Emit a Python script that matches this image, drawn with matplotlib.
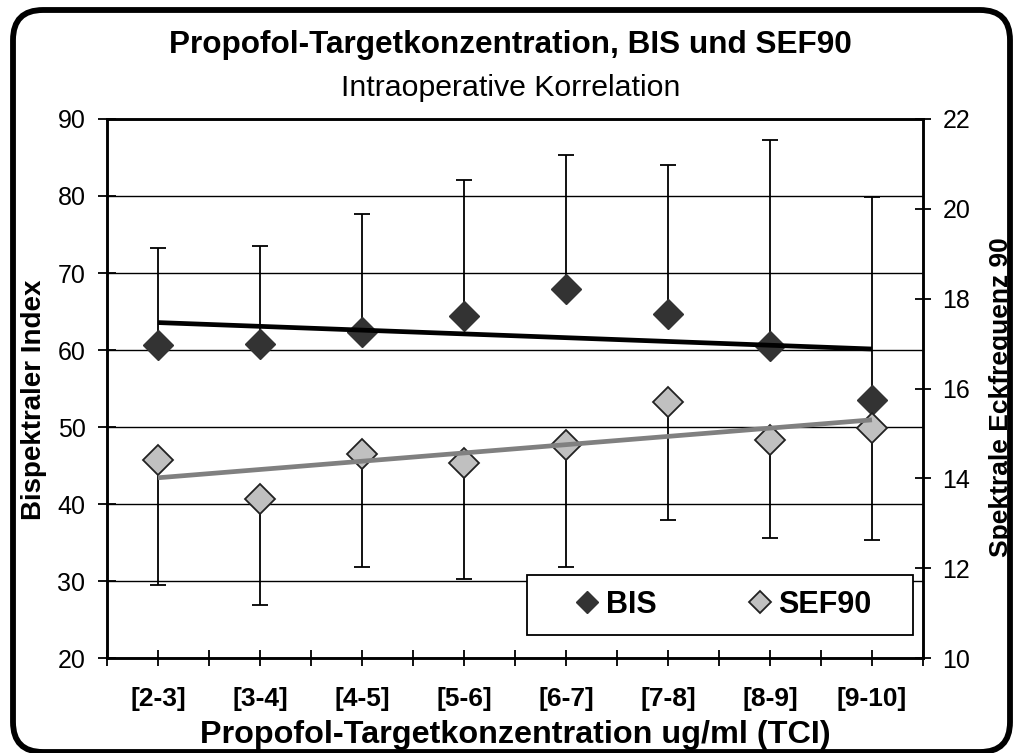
import numpy as np
import matplotlib
matplotlib.use('Agg')
import matplotlib.pyplot as plt
from matplotlib.patches import FancyBboxPatch, Rectangle
from matplotlib.transforms import IdentityTransform
from matplotlib.lines import Line2D

plt.rcParams['font.family'] = ['Liberation Sans', 'DejaVu Sans']

# data
kategorien = ['[2-3]', '[3-4]', '[4-5]', '[5-6]', '[6-7]', '[7-8]', '[8-9]', '[9-10]']
bis = [60.7, 60.8, 62.3, 64.4, 67.9, 64.7, 60.5, 53.5]
bis_oben = [73.3, 73.5, 77.7, 82.1, 85.3, 84.0, 87.3, 79.9]
sef90 = [14.41, 13.55, 14.54, 14.34, 14.74, 15.70, 14.86, 15.13]
sef90_unten = [11.63, 11.19, 12.03, 11.77, 12.03, 13.07, 12.67, 12.63]

BIS_FARBE = '#333333'
SEF_FARBE = '#c0c0c0'

fig = plt.figure(figsize=(10.21, 7.53), dpi=100)
ax = fig.add_axes([0.1048, 0.126, 0.7992, 0.716])
ax2 = ax.twinx()

x = np.arange(len(kategorien)) + 0.5
bis = np.array(bis)
sef90 = np.array(sef90)
err_bis = np.array(bis_oben) - bis
err_sef = sef90 - np.array(sef90_unten)

# BIS (linke Achse)
ax.errorbar(x, bis, yerr=[np.zeros_like(err_bis), err_bis], fmt='none',
            ecolor='black', elinewidth=1.3, capsize=6, capthick=1.3, zorder=3)
ax.plot(x, bis, 'D', ms=15, mfc=BIS_FARBE, mec=BIS_FARBE, mew=1, zorder=4)
k = np.polyfit(x, bis, 1)
ax.plot(x[[0, -1]], np.polyval(k, x[[0, -1]]), color='black', lw=3.4,
        solid_capstyle='butt', zorder=5)

# SEF90 (rechte Achse)
ax2.errorbar(x, sef90, yerr=[err_sef, np.zeros_like(err_sef)], fmt='none',
             ecolor='black', elinewidth=1.3, capsize=6, capthick=1.3, zorder=3)
ax2.plot(x, sef90, 'D', ms=15, mfc=SEF_FARBE, mec='#222222', mew=1.3, zorder=4)
k2 = np.polyfit(x, sef90, 1)
ax2.plot(x[[0, -1]], np.polyval(k2, x[[0, -1]]), color='#808080', lw=3.4,
         solid_capstyle='butt', zorder=5)

# Achsen
ax.set_xlim(0, len(kategorien))
ax.set_ylim(20, 90)
ax.set_yticks(np.arange(20, 91, 10))
ax2.set_ylim(10, 22)
ax2.set_yticks(np.arange(10, 23, 2))
ax.set_xticks(x)
ax.set_xticklabels(kategorien, fontsize=19, fontweight='bold')
ax.set_xticks(np.arange(0, len(kategorien) + 1), minor=True)
ax.grid(axis='y', color='black', lw=1)
ax.set_axisbelow(True)

for a in (ax, ax2):
    for s in a.spines.values():
        s.set_linewidth(1.8)
ax.tick_params(axis='x', which='both', direction='inout', length=11, width=1.3, pad=15)
ax.tick_params(axis='y', direction='inout', length=13, width=1.3, labelsize=18, pad=9)
ax2.tick_params(axis='y', direction='inout', length=12, width=1.3, labelsize=18, pad=8)

ax.set_ylabel('Bispektraler Index', fontsize=20, fontweight='bold')
ax.yaxis.set_label_coords(-0.0735, 0.479)
ax2.set_ylabel('Spektrale Eckfrequenz 90', fontsize=19, fontweight='bold')
ax2.yaxis.set_label_coords(1.0815, 0.485)
ax.set_xlabel('Propofol-Targetkonzentration ug/ml (TCI)', fontsize=23.3,
              fontweight='bold', labelpad=7)

fig.text(0.5, 1 - 45 / 753, 'Propofol-Targetkonzentration, BIS und SEF90',
         ha='center', va='center', fontsize=22.7, fontweight='bold')
fig.text(0.5, 1 - 88 / 753, 'Intraoperative Korrelation',
         ha='center', va='center', fontsize=21.8)

# Legende
griffe = [Line2D([], [], ls='none', marker='D', ms=11.2, mfc=BIS_FARBE, mec=BIS_FARBE),
          Line2D([], [], ls='none', marker='D', ms=11.2, mfc=SEF_FARBE, mec='#222222', mew=1.3)]
box = (0.515, 0.0427, 0.473, 0.111)
ax2.add_patch(Rectangle(box[:2], box[2], box[3], transform=ax2.transAxes,
                        fc='white', ec='black', lw=1.3, zorder=10))
leg = ax2.legend(griffe, ['BIS', 'SEF90'], ncol=2, loc='center',
                 bbox_to_anchor=(box[0] + box[2] / 2 + 0.004, box[1] + box[3] / 2),
                 prop={'size': 22, 'weight': 'bold'}, frameon=False,
                 handlelength=0.8, handletextpad=0.22, columnspacing=2.95,
                 borderaxespad=0, borderpad=0)
leg.set_zorder(11)

# abgerundeter Rahmen
rahmen = FancyBboxPatch((13, 1), 997, 742, boxstyle='round,pad=0,rounding_size=30',
                        transform=IdentityTransform(), fill=False, ec='black', lw=4.2)
fig.patches.append(rahmen)

fig.savefig('out.png', dpi=100)
